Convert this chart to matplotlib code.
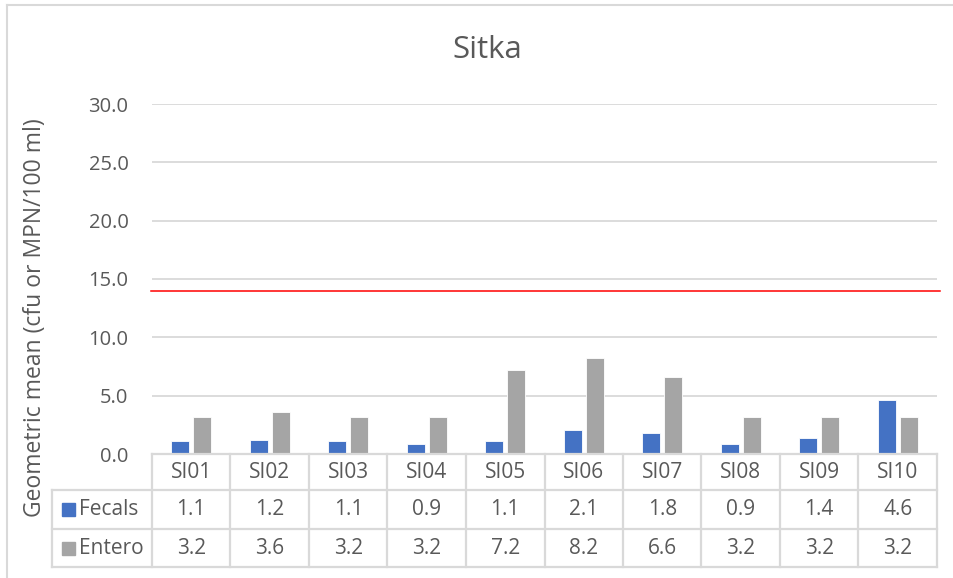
import matplotlib.pyplot as plt
import numpy as np

sites = ['SI01', 'SI02', 'SI03', 'SI04', 'SI05', 'SI06', 'SI07', 'SI08', 'SI09', 'SI10']
fecals = [1.1, 1.2, 1.1, 0.9, 1.1, 2.1, 1.8, 0.9, 1.4, 4.6]
entero = [3.2, 3.6, 3.2, 3.2, 7.2, 8.2, 6.6, 3.2, 3.2, 3.2]
series_names = ['Fecals', 'Entero']
limit = 14

blue = '#4472C4'
gray = '#A5A5A5'
line_c = '#D9D9D9'
txt_c = '#595959'
fs = 15

plt.rcParams['font.family'] = ['Open Sans', 'DejaVu Sans']

W, H = 954, 578
fig = plt.figure(figsize=(W / 100, H / 100), dpi=100)

# pixel helpers (figure coords)
def fx(px):
    return px / W

def fy(py):
    return 1 - py / H

ax_l, ax_r, ax_t, ax_b = 152, 937, 104, 454
ax = fig.add_axes([fx(ax_l), fy(ax_b), fx(ax_r) - fx(ax_l), fy(ax_t) - fy(ax_b)])

x = np.arange(len(sites))
bw = 0.225
ax.bar(x - 0.14, fecals, bw, color=blue, edgecolor='white', linewidth=0.6, zorder=3)
ax.bar(x + 0.14, entero, bw, color=gray, edgecolor='white', linewidth=0.6, zorder=3)

ax.set_xlim(-0.5, len(sites) - 0.5)
ax.set_ylim(0, 30)
ax.set_yticks(np.arange(0, 31, 5))
ax.set_yticklabels([f'{v:.1f}' for v in np.arange(0, 31, 5)], fontsize=14.5, color=txt_c)
ax.tick_params(axis='y', length=0, pad=17)
ax.set_xticks([])
ax.grid(axis='y', color=line_c, linewidth=1.3, zorder=0)
ax.set_axisbelow(True)
for s in ['top', 'right', 'left', 'bottom']:
    ax.spines[s].set_visible(False)

# limit line
ax.plot([-0.51, len(sites) - 0.46], [limit, limit], color='#FF0000', linewidth=1.1,
        clip_on=False, zorder=4)

# data table
rows_y = [454, 490, 529, 567]
tl = dict(color=line_c, linewidth=1.6, transform=fig.transFigure, clip_on=False)
fig.add_artist(plt.Line2D([fx(ax_l), fx(ax_r)], [fy(rows_y[0])] * 2, **tl))
for yy in rows_y[1:]:
    fig.add_artist(plt.Line2D([fx(52), fx(ax_r)], [fy(yy)] * 2, **tl))
colw = (ax_r - ax_l) / len(sites)
for i in range(len(sites) + 1):
    xx = ax_l + i * colw
    fig.add_artist(plt.Line2D([fx(xx)] * 2, [fy(rows_y[0]), fy(rows_y[-1])], **tl))
fig.add_artist(plt.Line2D([fx(52)] * 2, [fy(rows_y[1]), fy(rows_y[-1])], **tl))

for i, s in enumerate(sites):
    cx = fx(ax_l + (i + 0.5) * colw)
    fig.text(cx, fy((rows_y[0] + rows_y[1]) / 2), s, ha='center', va='center',
             fontsize=fs, color=txt_c)
    fig.text(cx, fy((rows_y[1] + rows_y[2]) / 2), f'{fecals[i]:.1f}', ha='center',
             va='center', fontsize=fs, color=txt_c)
    fig.text(cx, fy((rows_y[2] + rows_y[3]) / 2), f'{entero[i]:.1f}', ha='center',
             va='center', fontsize=fs, color=txt_c)

for k, (name, col) in enumerate(zip(series_names, [blue, gray])):
    yc = (rows_y[k + 1] + rows_y[k + 2]) / 2
    fig.add_artist(plt.Rectangle((fx(62), fy(yc + 6.5)), fx(13), 13 / H,
                                 color=col, transform=fig.transFigure))
    fig.text(fx(79), fy(yc), name, ha='left', va='center', fontsize=fs, color=txt_c)

# title and y label
fig.text(fx(487), fy(50), 'Sitka', ha='center', va='center', fontsize=22.5, color=txt_c)
fig.text(fx(35), fy(318), 'Geometric mean (cfu or MPN/100 ml)', ha='center', va='center',
         rotation=90, fontsize=16.5, color=txt_c)

# chart border
fig.add_artist(plt.Line2D([fx(7), fx(7)], [0, fy(5)], color=line_c, linewidth=1.5,
                          transform=fig.transFigure))
fig.add_artist(plt.Line2D([fx(7), 1], [fy(5), fy(5)], color=line_c, linewidth=1.5,
                          transform=fig.transFigure))

plt.savefig('out.png', dpi=100)
